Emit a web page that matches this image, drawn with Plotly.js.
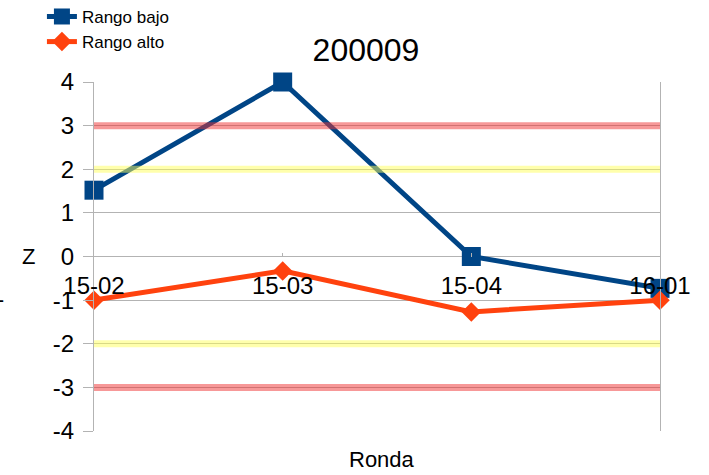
<!DOCTYPE html>
<html>
<head>
<meta charset="utf-8">
<script src="https://cdn.plot.ly/plotly-3.0.1.min.js"></script>
<style>html,body{margin:0;padding:0;background:#fff;}#chart{width:709px;height:475px;}</style>
</head>
<body>
<div id="chart"></div>
<script>
const categories = ['15-02', '15-03', '15-04', '16-01'];
const rangoBajo = [1.52, 4.0, 0.0, -0.73];
const rangoAlto = [-1.0, -0.33, -1.27, -1.0];
const redLevels = [3, -3];
const yellowLevels = [2, -2];
const yTicks = [-4, -3, -2, -1, 0, 1, 2, 3, 4];

const FONT = 'Liberation Sans, Arial, sans-serif';

const traces = [
  {
    x: categories, y: rangoBajo, name: 'Rango bajo', type: 'scatter', mode: 'lines+markers',
    line: {color: '#004586', width: 5}, cliponaxis: false,
    marker: {symbol: 'square', size: 19, color: '#004586'}
  },
  {
    x: categories, y: rangoAlto, name: 'Rango alto', type: 'scatter', mode: 'lines+markers',
    line: {color: '#ff420e', width: 5}, cliponaxis: false,
    marker: {symbol: 'diamond', size: 15, color: '#ff420e'}
  }
];
redLevels.forEach(v => traces.push({
  x: categories, y: categories.map(() => v), type: 'scatter', mode: 'lines',
  line: {color: 'rgba(240,50,50,0.5)', width: 7}, showlegend: false, hoverinfo: 'skip'
}));
yellowLevels.forEach(v => traces.push({
  x: categories, y: categories.map(() => v), type: 'scatter', mode: 'lines',
  line: {color: 'rgba(255,255,90,0.5)', width: 7}, showlegend: false, hoverinfo: 'skip'
}));

const layout = {
  width: 709, height: 475,
  margin: {l: 94, r: 49, t: 82, b: 44, autoexpand: false},
  paper_bgcolor: '#fff', plot_bgcolor: '#fff',
  font: {family: FONT, color: '#000'},
  showlegend: true,
  title: {text: '200009', font: {size: 32, family: FONT, color: '#000'},
          x: 366/709, xanchor: 'center', xref: 'container', y: 1 - 50/475, yanchor: 'middle'},
  legend: {x: -0.092, y: 1.238, xanchor: 'left', yanchor: 'top',
           font: {size: 17, family: FONT, color: '#000'}, bgcolor: 'rgba(0,0,0,0)',
           tracegroupgap: 0, itemwidth: 30},
  xaxis: {
    type: 'category', range: [0, 3], anchor: 'free', position: 0.5,
    showgrid: false, zeroline: false, showline: false,
    ticks: 'inside', ticklen: 4, tickcolor: '#b3b3b3',
    tickfont: {size: 24, family: FONT, color: '#000'},
    ticklabelstandoff: 12, fixedrange: true
  },
  yaxis: {
    range: [-4, 4], tickvals: yTicks, ticktext: yTicks.map(String),
    showgrid: true, gridcolor: '#b3b3b3', gridwidth: 1,
    zeroline: false, showline: true, linecolor: '#b3b3b3', linewidth: 1, mirror: true,
    ticks: 'outside', ticklen: 10, tickcolor: '#b3b3b3',
    tickfont: {size: 24, family: FONT, color: '#000'},
    ticklabelstandoff: 4,
    fixedrange: true
  },
  annotations: [
    {text: 'Ronda', xref: 'paper', yref: 'paper', x: (382 - 94)/566, y: -0.04,
     xanchor: 'center', yanchor: 'top', showarrow: false,
     font: {size: 22, family: FONT, color: '#000'}},
    {text: 'Z', xref: 'paper', yref: 'y', x: (28 - 94)/566, y: 0,
     xanchor: 'center', yanchor: 'middle', showarrow: false,
     font: {size: 22, family: FONT, color: '#000'}},
    {text: '1', xref: 'paper', yref: 'y', x: (6 - 94)/566, y: -0.85,
     xanchor: 'right', yanchor: 'middle', showarrow: false,
     font: {size: 24, family: FONT, color: '#000'}}
  ]
};

Plotly.newPlot('chart', traces, layout, {displayModeBar: false, staticPlot: true});
</script>
</body>
</html>
